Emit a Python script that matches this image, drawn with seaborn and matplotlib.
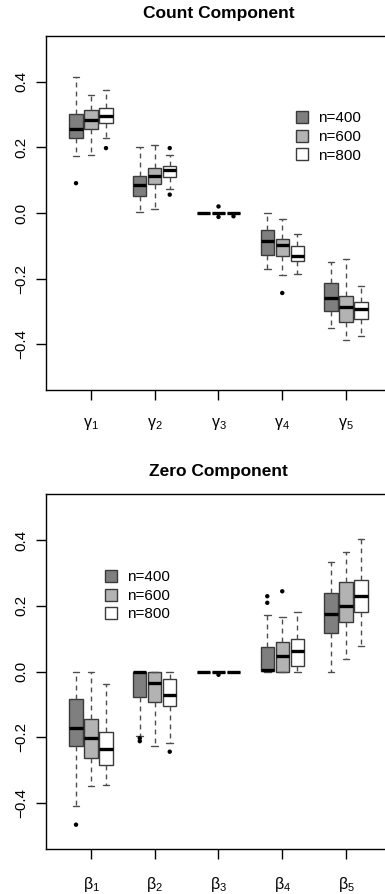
import numpy as np
import pandas as pd
import matplotlib
matplotlib.use("Agg")
import matplotlib.pyplot as plt
from matplotlib.lines import Line2D
import seaborn as sns

# ---------------- data ----------------
count_labels = [r"$\gamma_1$", r"$\gamma_2$", r"$\gamma_3$", r"$\gamma_4$", r"$\gamma_5$"]
zero_labels = [r"$\beta_1$", r"$\beta_2$", r"$\beta_3$", r"$\beta_4$", r"$\beta_5$"]
sizes = ["n=400", "n=600", "n=800"]

# Count component
c400_whislo = [0.173, 0.003, 0.0, -0.170, -0.351]
c400_q1 = [0.229, 0.051, 0.0, -0.128, -0.299]
c400_med = [0.257, 0.084, 0.0, -0.085, -0.259]
c400_q3 = [0.302, 0.112, 0.0, -0.051, -0.215]
c400_whishi = [0.415, 0.201, 0.0, 0.0, -0.148]
c400_fliers = [[0.091], [], [], [], []]

c600_whislo = [0.176, 0.013, 0.0, -0.190, -0.386]
c600_q1 = [0.256, 0.088, 0.0, -0.130, -0.334]
c600_med = [0.284, 0.114, 0.0, -0.097, -0.286]
c600_q3 = [0.315, 0.137, 0.0, -0.078, -0.254]
c600_whishi = [0.361, 0.206, 0.0, -0.018, -0.140]
c600_fliers = [[], [], [0.020, -0.012], [-0.244], []]

c800_whislo = [0.229, 0.073, 0.0, -0.185, -0.374]
c800_q1 = [0.274, 0.109, 0.0, -0.145, -0.323]
c800_med = [0.295, 0.130, 0.0, -0.130, -0.292]
c800_q3 = [0.320, 0.144, 0.0, -0.102, -0.271]
c800_whishi = [0.376, 0.178, 0.0, -0.065, -0.222]
c800_fliers = [[0.198], [0.198, 0.056], [-0.010], [], []]

# Zero component
z400_whislo = [-0.408, -0.196, 0.0, 0.0, 0.0]
z400_q1 = [-0.226, -0.078, 0.0, 0.002, 0.117]
z400_med = [-0.171, 0.0, 0.0, 0.005, 0.175]
z400_q3 = [-0.084, 0.0, 0.0, 0.076, 0.238]
z400_whishi = [0.0, 0.0, 0.0, 0.173, 0.334]
z400_fliers = [[-0.466], [-0.203, -0.212], [], [0.229, 0.209], []]

z600_whislo = [-0.348, -0.227, 0.0, 0.0, 0.038]
z600_q1 = [-0.263, -0.092, 0.0, 0.0, 0.150]
z600_med = [-0.201, -0.036, 0.0, 0.046, 0.198]
z600_q3 = [-0.145, 0.0, 0.0, 0.089, 0.273]
z600_whishi = [0.0, 0.0, 0.0, 0.165, 0.363]
z600_fliers = [[], [], [-0.010], [0.244], []]

z800_whislo = [-0.344, -0.216, 0.0, 0.0, 0.078]
z800_q1 = [-0.285, -0.106, 0.0, 0.018, 0.181]
z800_med = [-0.236, -0.072, 0.0, 0.063, 0.230]
z800_q3 = [-0.184, -0.022, 0.0, 0.100, 0.278]
z800_whishi = [-0.039, 0.0, 0.0, 0.180, 0.404]
z800_fliers = [[], [-0.244], [], [], []]

# ---------------- style ----------------
sns.set_theme(style="ticks")
plt.rcParams["font.family"] = ["Liberation Sans", "DejaVu Sans"]
plt.rcParams["mathtext.fontset"] = "custom"
plt.rcParams["mathtext.rm"] = "Liberation Sans"
plt.rcParams["mathtext.it"] = "Liberation Sans"
plt.rcParams["mathtext.bf"] = "Liberation Sans:bold"
for key in ["text.color", "axes.labelcolor", "xtick.color", "ytick.color",
            "axes.edgecolor"]:
    plt.rcParams[key] = "black"

fills = ["#7f7f7f", "#b3b3b3", "#ffffff"]
edge = "#3a3a3a"
offsets = [-0.235, 0.0, 0.235]
box_w = 0.21

fig = plt.figure(figsize=(3.85, 8.94), dpi=100)
ax_top = fig.add_axes([46 / 385, 1 - 390 / 894, 345 / 385, 354 / 894])
ax_bot = fig.add_axes([46 / 385, 1 - 849 / 894, 345 / 385, 355 / 894])


def make_stats(whislo, q1, med, q3, whishi, fliers):
    return [dict(whislo=a, q1=b, med=c, q3=d, whishi=e, fliers=np.array(f))
            for a, b, c, d, e, f in zip(whislo, q1, med, q3, whishi, fliers)]


def draw_panel(ax, series, labels, title, legend_anchor):
    pos = np.arange(1, len(labels) + 1)
    outlier_rows = []
    for k, (st, fc) in enumerate(zip(series, fills)):
        stats = make_stats(*st)
        ax.bxp(stats, positions=pos + offsets[k], widths=box_w,
               patch_artist=True, showfliers=False, manage_ticks=False,
               boxprops=dict(facecolor=fc, edgecolor=edge, linewidth=1.0),
               medianprops=dict(color="black", linewidth=2.4, solid_capstyle="butt"),
               whiskerprops=dict(color="#4d4d4d", linewidth=1.0, linestyle=(0, (3.5, 3.0))),
               capprops=dict(color="#4d4d4d", linewidth=1.0),
               capwidths=box_w * 0.5)
        for i, fl in enumerate(st[5]):
            for v in fl:
                outlier_rows.append(dict(x=pos[i] + offsets[k], y=v))
    if outlier_rows:
        df = pd.DataFrame(outlier_rows)
        sns.scatterplot(data=df, x="x", y="y", ax=ax, color="black", s=10,
                        edgecolor="none", legend=False, zorder=5)
    ax.set_xlim(0.294, 5.706)
    ax.set_ylim(-0.54, 0.54)
    ax.set_xticks(pos)
    ax.set_xticklabels(labels, fontsize=11.5)
    ax.set_yticks([-0.4, -0.2, 0.0, 0.2, 0.4])
    ax.set_yticklabels(["\u22120.4", "\u22120.2", "0.0", "0.2", "0.4"],
                       fontsize=11, rotation=90, va="center")
    ax.set_xlabel("")
    ax.set_ylabel("")
    ax.tick_params(axis="x", length=7, width=1, pad=12, colors="black")
    ax.tick_params(axis="y", length=7, width=1, pad=5.5, colors="black")
    for s in ax.spines.values():
        s.set_linewidth(1.0)
        s.set_color("black")
    ax.set_title(title, fontsize=12.5, fontweight="bold", pad=13, color="black")
    handles = [Line2D([], [], marker="s", linestyle="", markersize=8.5,
                      markerfacecolor=fc, markeredgecolor=edge, markeredgewidth=1.0)
               for fc in fills]
    ax.legend(handles, sizes, loc="upper left", bbox_to_anchor=legend_anchor,
              frameon=False, fontsize=11, handlelength=1.0, handletextpad=0.55,
              labelspacing=0.3, borderpad=0, borderaxespad=0)


count_series = [
    (c400_whislo, c400_q1, c400_med, c400_q3, c400_whishi, c400_fliers),
    (c600_whislo, c600_q1, c600_med, c600_q3, c600_whishi, c600_fliers),
    (c800_whislo, c800_q1, c800_med, c800_q3, c800_whishi, c800_fliers),
]
zero_series = [
    (z400_whislo, z400_q1, z400_med, z400_q3, z400_whishi, z400_fliers),
    (z600_whislo, z600_q1, z600_med, z600_q3, z600_whishi, z600_fliers),
    (z800_whislo, z800_q1, z800_med, z800_q3, z800_whishi, z800_fliers),
]

draw_panel(ax_top, count_series, count_labels, "Count Component", (0.72, 0.787))
draw_panel(ax_bot, zero_series, zero_labels, "Zero Component", (0.165, 0.785))

fig.savefig("out.png", dpi=100)
